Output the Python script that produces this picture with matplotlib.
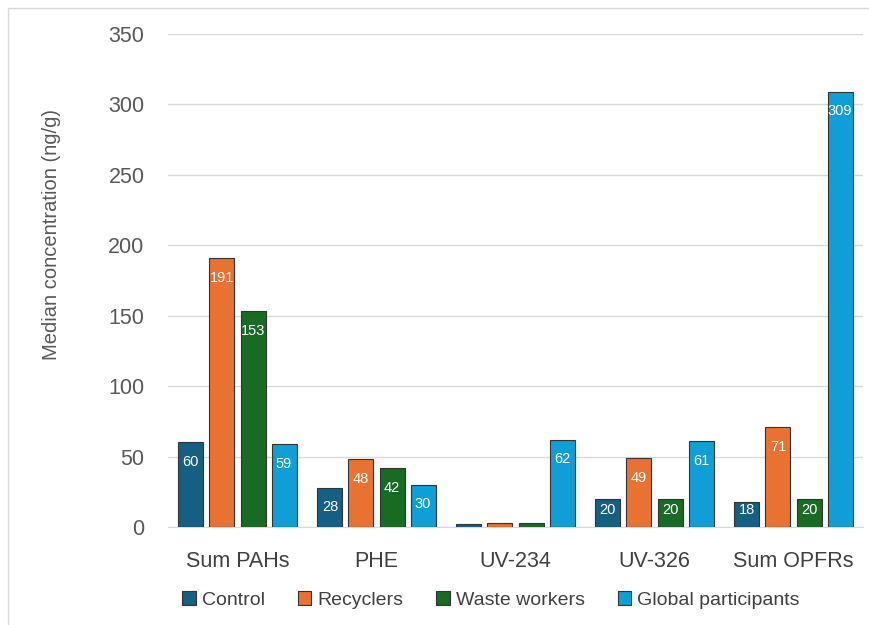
import numpy as np
import matplotlib.pyplot as plt
from matplotlib.patches import Rectangle

categories = ["Sum PAHs", "PHE", "UV-234", "UV-326", "Sum OPFRs"]
groups = ["Control", "Recyclers", "Waste workers", "Global participants"]
control = [60, 28, 2, 20, 18]
recyclers = [191, 48, 3, 49, 71]
waste_workers = [153, 42, 3, 20, 20]
global_participants = [59, 30, 62, 61, 309]
yticks = [0, 50, 100, 150, 200, 250, 300, 350]

colors = ["#156082", "#E97132", "#196B24", "#0F9ED5"]
series = [control, recyclers, waste_workers, global_participants]

plt.rcParams['font.family'] = ['Liberation Sans', 'DejaVu Sans']

fig = plt.figure(figsize=(8.69, 6.25), dpi=100)
ax = fig.add_axes([168 / 869, 1 - 527 / 625, 695 / 869, 493 / 625])

x = np.arange(len(categories))
width = 0.18
offsets = [-0.335, -0.112, 0.112, 0.335]

for vals, off, col, name in zip(series, offsets, colors, groups):
    bars = ax.bar(x + off, vals, width, color=col, edgecolor="#333333",
                  linewidth=0.8, label=name, zorder=3)
    for b, v in zip(bars, vals):
        if v < 10:
            continue
        # label inside the top of the bar, kept within short bars
        ty = max(v - 14, 12)
        ax.text(b.get_x() + b.get_width() / 2, ty, str(v), ha="center",
                va="center", color="white", fontsize=10.5, zorder=4)

ax.set_xlim(-0.5, 4.5)
ax.set_ylim(0, 350)
ax.set_yticks(yticks)
ax.set_xticks(x)
ax.set_xticklabels(categories, fontsize=15.5, color="#404040")
ax.tick_params(axis="y", labelsize=15.5, labelcolor="#595959", length=0, pad=17)
ax.tick_params(axis="x", length=0, pad=17)
ax.yaxis.grid(True, color="#d9d9d9", linewidth=1, zorder=0)
for s in ["top", "right", "left"]:
    ax.spines[s].set_visible(False)
ax.spines["bottom"].set_color("#d9d9d9")
ax.set_ylabel("Median concentration (ng/g)", fontsize=14.5, color="#595959")
ax.yaxis.set_label_coords((61 - 168) / 695, (527 - 235) / 493)

fig.legend(loc="center", bbox_to_anchor=(491 / 869, 1 - 600 / 625), ncol=4,
           frameon=False, fontsize=14, handlelength=0.7, handleheight=0.7,
           handletextpad=0.3, columnspacing=1.7, labelcolor="#404040")

# light border around the chart area
fig.patches.append(Rectangle((8 / 869, -0.1), 1.1, 1 - 8 / 625 + 0.1,
                             transform=fig.transFigure, fill=False,
                             edgecolor="#d9d9d9", linewidth=1))

fig.savefig("out.png", dpi=100)
